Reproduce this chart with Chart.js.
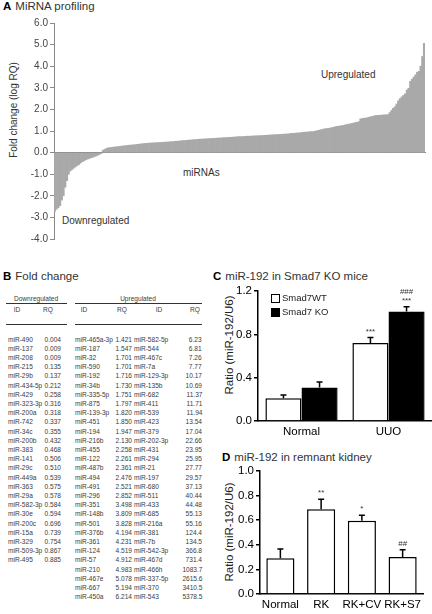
<!DOCTYPE html>
<html>
<head>
<meta charset="utf-8">
<script src="https://cdn.jsdelivr.net/npm/chart.js@4/dist/chart.umd.min.js"></script>
<style>
  html, body { margin: 0; padding: 0; background: #fff; }
  body { width: 432px; height: 614px; position: relative; overflow: hidden;
         font-family: 'Liberation Sans', Arial, sans-serif; color: #222; }
  .abs { position: absolute; white-space: nowrap; }
  .ptitle { font-size: 11.5px; color: #333; }
  .ptitle b { font-size: 11.5px; color: #000; margin-right: 4px; }
  .ytitle { transform: translate(-50%, -50%) rotate(-90deg); }
  .tbl { font-size: 8px; color: #3a3a3a; line-height: 9px; transform: scaleX(0.82); transform-origin: left center; }
  .tbl.r { transform-origin: right center; }
  .tbl.c { transform: translateX(-50%) scaleX(0.82); transform-origin: center center; }
  .rule { position: absolute; height: 1px; background: #333; }
  .lbox { position: absolute; width: 7px; height: 7px; border: 1px solid #000; }
  canvas { position: absolute; }
</style>
</head>
<body>

<div class="abs ptitle" style="left:3px; top:0px;"><b>A</b>MiRNA profiling</div>
<div class="abs ytitle" style="left:13px; top:110px; font-size:10px; color:#333;">Fold change (log RQ)</div>
<div class="abs" style="left:321px; top:69px; font-size:10px; color:#333;">Upregulated</div>
<div class="abs" style="left:183px; top:167px; font-size:10px; color:#333;">miRNAs</div>
<div class="abs" style="left:62px; top:215px; font-size:10px; color:#333;">Downregulated</div>

<div class="abs ptitle" style="left:3px; top:270px;"><b>B</b>Fold change</div>
<div id="tableB"></div>

<div class="abs ptitle" style="left:213px; top:270px;"><b>C</b>miR-192 in Smad7 KO mice</div>
<div class="abs ytitle" style="left:229px; top:345px; font-size:11.5px; color:#222;">Ratio (miR-192/U6)</div>
<div style="position:absolute; left:210px; top:282px; width:222px; height:159px;"><canvas id="chartC"></canvas></div>
<div class="lbox" style="left:271px; top:294px; background:#fff;"></div>
<div class="abs" style="left:282px; top:292px; font-size:9.5px; color:#222;">Smad7WT</div>
<div class="lbox" style="left:271px; top:308px; background:#000;"></div>
<div class="abs" style="left:282px; top:306px; font-size:9.5px; color:#222;">Smad7 KO</div>

<div class="abs ptitle" style="left:222px; top:451px;"><b>D</b>miR-192 in remnant kidney</div>
<div class="abs ytitle" style="left:229px; top:532px; font-size:11.5px; color:#222;">Ratio (miR-192/U6)</div>
<div style="position:absolute; left:210px; top:462px; width:222px; height:152px;"><canvas id="chartD"></canvas></div>

<div style="position:absolute; left:0; top:11px; width:432px; height:236px; z-index:10;"><canvas id="chartA"></canvas></div>

<script>
const FONT = "'Liberation Sans', Arial, sans-serif";

// ---- panel A: sorted log fold change of all profiled miRNAs ----
const profileDown = [
  -2.72, -2.62, -2.55, -2.45, -2.20, -2.00, -1.60, -1.30, -1.00, -0.85,
  -0.78, -0.72, -0.66, -0.60, -0.55, -0.48, -0.42, -0.38, -0.33, -0.30,
  -0.27, -0.24, -0.22, -0.19, -0.16, -0.12, -0.08, -0.04,
];
const profileUp = [
  0.10, 0.15, 0.19, 0.22, 0.23, 0.24, 0.25, 0.26, 0.27, 0.28,
  0.29, 0.30, 0.31, 0.32, 0.33, 0.34, 0.35, 0.35, 0.36, 0.37,
  0.38, 0.39, 0.40, 0.41, 0.42, 0.43, 0.43, 0.44, 0.44, 0.45,
  0.45, 0.46, 0.46, 0.47, 0.47, 0.48, 0.48, 0.49, 0.49, 0.50,
  0.51, 0.51, 0.52, 0.53, 0.53, 0.54, 0.55, 0.56, 0.56, 0.57,
  0.58, 0.58, 0.59, 0.60, 0.60, 0.61, 0.62, 0.62, 0.63, 0.63,
  0.64, 0.64, 0.65, 0.65, 0.66, 0.66, 0.67, 0.67, 0.68, 0.68,
  0.69, 0.69, 0.70, 0.70, 0.71, 0.71, 0.72, 0.72, 0.73, 0.74,
  0.74, 0.74, 0.75, 0.75, 0.76, 0.76, 0.76, 0.77, 0.77, 0.78,
  0.78, 0.78, 0.79, 0.79, 0.80, 0.80, 0.81, 0.81, 0.82, 0.82,
  0.83, 0.83, 0.84, 0.84, 0.85, 0.85, 0.86, 0.86, 0.87, 0.88,
  0.89, 0.89, 0.90, 0.91, 0.91, 0.92, 0.93, 0.94, 0.95, 0.95,
  0.96, 0.97, 0.97, 0.98, 1.00, 1.02, 1.04, 1.06, 1.08, 1.10,
  1.11, 1.12, 1.13, 1.15, 1.17, 1.19, 1.21, 1.22, 1.23, 1.25,
  1.26, 1.28, 1.30, 1.32, 1.33, 1.35, 1.37, 1.39, 1.41, 1.43,
  1.56, 1.58, 1.59, 1.60, 1.62, 1.64, 1.66, 1.68, 1.70, 1.72,
  1.72, 1.73, 1.73, 1.74, 1.75, 1.75, 1.76, 1.85, 1.95, 2.05,
  2.12, 2.25, 2.40, 2.50, 2.58, 2.65, 2.72, 2.90, 2.98, 3.30,
  3.40, 3.50, 3.60, 3.72, 3.76, 4.00, 4.45, 5.06,
];
const profileRange = [-4, 6];

// ---- panel B: fold change table ----
const downIds = ['miR-490', 'miR-137', 'miR-208', 'miR-215', 'miR-29b', 'miR-434-5p', 'miR-429', 'miR-323-3p',
  'miR-200a', 'miR-742', 'miR-34c', 'miR-200b', 'miR-383', 'miR-141', 'miR-29c', 'miR-449a', 'miR-363',
  'miR-29a', 'miR-582-3p', 'miR-30e', 'miR-200c', 'miR-15a', 'miR-329', 'miR-509-3p', 'miR-495'];
const downRQ = ['0.004', '0.009', '0.009', '0.135', '0.137', '0.212', '0.258', '0.316', '0.318', '0.337',
  '0.355', '0.432', '0.468', '0.506', '0.510', '0.539', '0.575', '0.578', '0.584', '0.594', '0.696',
  '0.739', '0.754', '0.867', '0.885'];
const upIds1 = ['miR-465a-3p', 'miR-187', 'miR-32', 'miR-590', 'miR-192', 'miR-34b', 'miR-335-5p', 'miR-875',
  'miR-139-3p', 'miR-451', 'miR-194', 'miR-216b', 'miR-455', 'miR-122', 'miR-487b', 'miR-494', 'miR-491',
  'miR-296', 'miR-351', 'miR-148b', 'miR-501', 'miR-376b', 'miR-361', 'miR-124', 'miR-57', 'miR-210',
  'miR-467e', 'miR-667', 'miR-450a'];
const upRQ1 = ['1.421', '1.547', '1.701', '1.701', '1.716', '1.730', '1.751', '1.797', '1.820', '1.850',
  '1.947', '2.130', '2.258', '2.261', '2.361', '2.476', '2.521', '2.852', '3.498', '3.809', '3.828',
  '4.194', '4.231', '4.519', '4.912', '4.983', '5.078', '5.194', '6.214'];
const upIds2 = ['miR-582-5p', 'miR-544', 'miR-467c', 'miR-7a', 'miR-129-3p', 'miR-135b', 'miR-682', 'miR-411',
  'miR-539', 'miR-423', 'miR-379', 'miR-202-3p', 'miR-431', 'miR-294', 'miR-21', 'miR-197', 'miR-680',
  'miR-511', 'miR-433', 'miR-685', 'miR-216a', 'miR-381', 'miR-7b', 'miR-542-3p', 'miR-467d', 'miR-466h',
  'miR-337-5p', 'miR-370', 'miR-543'];
const upRQ2 = ['6.23', '6.81', '7.26', '7.77', '10.17', '10.69', '11.37', '11.71', '11.94', '13.54', '17.04',
  '22.66', '23.95', '25.95', '27.77', '29.57', '37.13', '40.44', '44.48', '55.13', '55.16', '124.4',
  '134.5', '366.8', '731.4', '1083.7', '2615.6', '3410.5', '5378.5'];

// ---- panel C: Smad7 KO mice ----
const koGroups = ['Normal', 'UUO'];
const wtValues = [0.21, 0.72];
const wtErrors = [0.03, 0.05];
const wtMarks = ['', '***'];
const koValues = [0.31, 1.01];
const koErrors = [0.05, 0.045];
const koMarks = ['', '***\n###'];
const koAxis = { max: 1.2, step: 0.4 };

// ---- panel D: remnant kidney ----
const rkGroups = ['Normal', 'RK', 'RK+CV', 'RK+S7'];
const rkValues = [0.29, 0.69, 0.595, 0.30];
const rkErrors = [0.075, 0.08, 0.045, 0.06];
const rkMarks = ['', '**', '*', '##'];
const rkAxis = { max: 1.0, step: 0.2 };

function buildTable() {
  const root = document.getElementById('tableB');
  const add = (html, style, cls) => {
    const d = document.createElement('div');
    d.className = cls || 'abs tbl';
    d.setAttribute('style', style);
    d.innerHTML = html;
    root.appendChild(d);
  };
  add('Downregulated', 'left:36px; top:294px;', 'abs tbl c');
  add('Upregulated', 'left:138px; top:294px;', 'abs tbl c');
  add('', 'left:6px; top:303px; width:61px;', 'rule');
  add('', 'left:75px; top:303px; width:127px;', 'rule');
  [['ID', 17], ['RQ', 48], ['ID', 84], ['RQ', 122], ['ID', 159], ['RQ', 195]].forEach(([t, x]) =>
    add(t, `left:${x}px; top:305px;`, 'abs tbl c'));
  add('', 'left:6px; top:324px; width:61px;', 'rule');
  add('', 'left:75px; top:324px; width:127px;', 'rule');
  const rowTop = i => 334.5 + i * 9.2;
  downIds.forEach((id, i) => {
    add(id, `left:8px; top:${rowTop(i)}px;`);
    add(downRQ[i], `right:${432 - 61}px; top:${rowTop(i)}px;`, 'abs tbl r');
  });
  upIds1.forEach((id, i) => {
    add(id, `left:75px; top:${rowTop(i)}px;`);
    add(upRQ1[i], `right:${432 - 132}px; top:${rowTop(i)}px;`, 'abs tbl r');
    add(upIds2[i], `left:134px; top:${rowTop(i)}px;`);
    add(upRQ2[i], `right:${432 - 202}px; top:${rowTop(i)}px;`, 'abs tbl r');
  });
}

// error bars + significance marks, drawn from each dataset's errors/marks
const errorBars = {
  id: 'errorBars',
  afterDatasetsDraw(chart) {
    const { ctx } = chart;
    const y = chart.scales.y;
    chart.data.datasets.forEach((ds, di) => {
      const meta = chart.getDatasetMeta(di);
      meta.data.forEach((bar, i) => {
        const top = y.getPixelForValue(ds.data[i] + ds.errors[i]);
        ctx.save();
        ctx.strokeStyle = '#000';
        ctx.lineWidth = 1.5;
        ctx.beginPath();
        ctx.moveTo(bar.x, bar.y);
        ctx.lineTo(bar.x, top);
        ctx.moveTo(bar.x - 3, top);
        ctx.lineTo(bar.x + 3, top);
        ctx.stroke();
        const mark = ds.marks[i];
        if (mark) {
          ctx.fillStyle = '#333';
          ctx.font = `8px ${FONT}`;
          ctx.textAlign = 'center';
          ctx.textBaseline = 'bottom';
          mark.split('\n').forEach((m, k) => ctx.fillText(m, bar.x, top - 2 - k * 9));
        }
        ctx.restore();
      });
    });
  },
};

function renderProfile(canvasId) {
  const values = profileDown.concat(profileUp);
  return new Chart(document.getElementById(canvasId), {
    type: 'bar',
    data: {
      labels: values.map((_, i) => i + 1),
      datasets: [{
        data: values,
        backgroundColor: '#a9a9a9',
        borderWidth: 0,
        barPercentage: 1,
        categoryPercentage: 1,
      }],
    },
    options: {
      responsive: true,
      maintainAspectRatio: false,
      animation: false,
      layout: { padding: { top: 12, bottom: 6, right: 7, left: 0 } },
      plugins: { legend: { display: false }, tooltip: { enabled: false } },
      scales: {
        x: {
          position: { y: 0 },
          grid: { display: false, drawTicks: false },
          border: { color: '#8a8a8a', width: 1 },
          ticks: { display: false },
        },
        y: {
          min: profileRange[0],
          max: profileRange[1],
          afterFit: s => { s.width = 54; },
          grid: { drawOnChartArea: false, drawTicks: true, tickLength: 4, color: '#8a8a8a' },
          border: { color: '#8a8a8a', width: 1 },
          ticks: { stepSize: 1, autoSkip: false, padding: 2, color: '#444',
                   font: { family: FONT, size: 10 }, callback: v => v.toFixed(1) },
        },
      },
    },
  });
}

function renderGroupBars(canvasId, labels, datasets, axis, opts) {
  return new Chart(document.getElementById(canvasId), {
    type: 'bar',
    data: { labels, datasets },
    plugins: [errorBars],
    options: {
      responsive: true,
      maintainAspectRatio: false,
      animation: false,
      layout: { padding: { top: 9, bottom: 0, right: opts.right, left: 0 } },
      plugins: { legend: { display: false }, tooltip: { enabled: false } },
      scales: {
        x: {
          grid: { display: false, drawTicks: false },
          border: { color: '#000', width: 1.5 },
          afterFit: s => { s.height = 20; },
          ticks: { padding: 4, maxRotation: 0, minRotation: 0, autoSkip: false,
                   color: '#000', font: { family: FONT, size: 11.5 } },
        },
        y: {
          min: 0,
          max: axis.max,
          afterFit: s => { s.width = opts.axisWidth; },
          grid: { drawOnChartArea: false, drawTicks: true, tickLength: 4, color: '#000', lineWidth: 1.5 },
          border: { color: '#000', width: 1.5 },
          ticks: { stepSize: axis.step, autoSkip: false, padding: 2, color: '#000',
                   font: { family: FONT, size: 11.5 }, callback: v => v.toFixed(1) },
        },
      },
    },
  });
}

renderProfile('chartA');
buildTable();

renderGroupBars('chartC', koGroups, [
  { label: 'Smad7WT', data: wtValues, errors: wtErrors, marks: wtMarks,
    backgroundColor: '#fff', borderColor: '#000', borderWidth: 1.5,
    barPercentage: 1, categoryPercentage: 0.83 },
  { label: 'Smad7 KO', data: koValues, errors: koErrors, marks: koMarks,
    backgroundColor: '#000', borderColor: '#000', borderWidth: 1.5,
    barPercentage: 1, categoryPercentage: 0.83 },
], koAxis, { axisWidth: 48, right: 0 });

renderGroupBars('chartD', rkGroups, [
  { label: 'miR-192', data: rkValues, errors: rkErrors, marks: rkMarks,
    backgroundColor: '#fff', borderColor: '#000', borderWidth: 1.5,
    barPercentage: 0.69, categoryPercentage: 1 },
], rkAxis, { axisWidth: 50, right: 9 });
</script>
</body>
</html>
